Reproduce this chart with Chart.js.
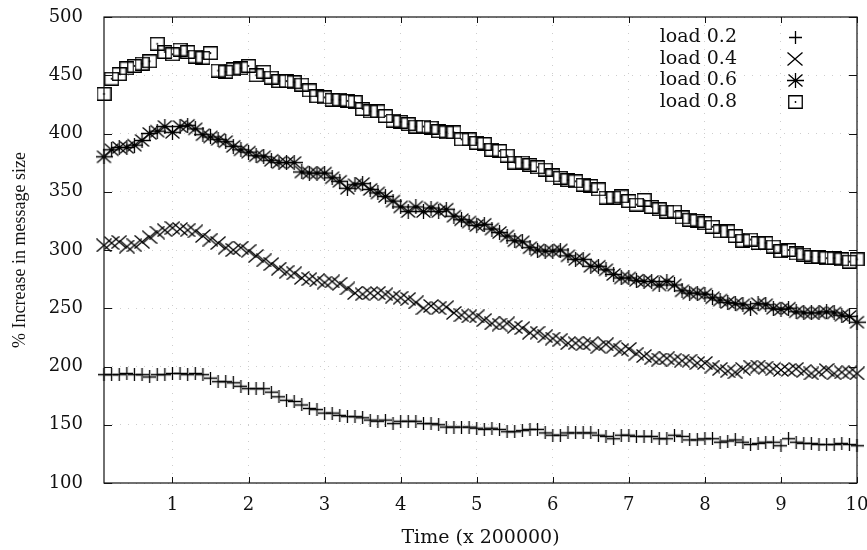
<!DOCTYPE html>
<html><head><meta charset="utf-8">
<script src="https://cdn.jsdelivr.net/npm/chart.js@4.4.1/dist/chart.umd.min.js"></script>
<style>html,body{margin:0;padding:0;background:#fff;}canvas{display:block;}</style>
</head><body>
<canvas id="c" width="867" height="550"></canvas>
<script>
// ---- data ----
const times = [0.1,0.2,0.3,0.4,0.5,0.6,0.7,0.8,0.9,1.0,
  1.1,1.2,1.3,1.4,1.5,1.6,1.7,1.8,1.9,2.0,
  2.1,2.2,2.3,2.4,2.5,2.6,2.7,2.8,2.9,3.0,
  3.1,3.2,3.3,3.4,3.5,3.6,3.7,3.8,3.9,4.0,
  4.1,4.2,4.3,4.4,4.5,4.6,4.7,4.8,4.9,5.0,
  5.1,5.2,5.3,5.4,5.5,5.6,5.7,5.8,5.9,6.0,
  6.1,6.2,6.3,6.4,6.5,6.6,6.7,6.8,6.9,7.0,
  7.1,7.2,7.3,7.4,7.5,7.6,7.7,7.8,7.9,8.0,
  8.1,8.2,8.3,8.4,8.5,8.6,8.7,8.8,8.9,9.0,
  9.1,9.2,9.3,9.4,9.5,9.6,9.7,9.8,9.9,10.0];

const load02 = [193,193,193,194,193,193,191,193,193,194,
  194,193,194,193,190,187,187,186,183,181,
  181,181,178,174,171,170,167,164,163,160,
  160,158,157,157,156,154,153,154,151,153,
  153,153,151,151,150,148,148,148,148,147,
  146,147,146,144,144,145,146,146,143,141,
  141,143,143,143,143,141,140,138,141,141,
  140,140,140,138,138,141,140,137,137,138,
  138,135,136,137,135,133,134,135,135,132,
  138,135,134,134,133,133,133,134,133,132];

const load04 = [304,306,307,303,304,307,311,315,317,319,
  318,317,316,312,309,306,302,300,302,299,
  295,291,288,284,281,280,276,275,274,272,
  273,271,267,263,262,263,263,262,260,259,
  258,255,250,252,250,251,246,244,243,243,
  240,237,236,237,234,233,229,229,226,224,
  223,220,220,219,220,217,219,217,214,215,
  211,209,207,206,207,206,205,205,203,203,
  200,198,196,195,198,200,200,199,198,197,
  197,198,196,194,195,197,194,195,195,194];

const load06 = [380,386,388,388,390,394,400,402,406,401,
  406,407,404,399,397,395,393,389,386,384,
  381,380,377,375,375,375,367,366,366,366,
  362,359,353,356,357,352,349,346,342,337,
  333,337,333,336,333,335,329,326,324,321,
  322,318,315,312,308,307,302,300,299,299,
  300,295,292,292,286,286,283,279,276,276,
  274,273,273,270,273,270,265,263,263,262,
  259,257,255,254,253,250,254,253,250,249,
  250,247,246,246,246,247,246,244,243,238];

const load08 = [434,447,451,456,458,460,462,477,470,468,
  472,470,466,465,469,454,453,455,456,458,
  450,453,448,445,445,444,442,437,432,431,
  429,429,428,427,421,419,419,415,411,410,
  408,406,406,405,402,401,401,395,395,392,
  391,386,385,381,375,375,373,371,369,364,
  362,360,359,356,355,352,345,345,346,342,
  339,343,337,335,333,333,328,326,325,323,
  320,316,316,312,308,309,306,306,303,299,
  300,297,296,294,294,293,293,292,290,292];

const seriesLabels = ['load 0.2','load 0.4','load 0.6','load 0.8'];
const xTickValues = [1,2,3,4,5,6,7,8,9,10];
const yMin = 100, yMax = 500, yStep = 50;

// ---- marker glyphs (gnuplot-like) ----
function marker(kind){
  const c = document.createElement('canvas');
  const dims = {plus:[13,13], x:[16,14], star:[17,15], square:[15,14]}[kind];
  c.width = dims[0]; c.height = dims[1];
  const g = c.getContext('2d');
  g.strokeStyle = '#000'; g.fillStyle = '#000'; g.lineWidth = 1.3;
  const w = c.width, h = c.height, cx = w/2, cy = h/2;
  g.beginPath();
  if (kind === 'plus') {
    g.moveTo(cx, 0); g.lineTo(cx, h); g.moveTo(0, cy); g.lineTo(w, cy);
  } else if (kind === 'x') {
    g.moveTo(0.5, 0.5); g.lineTo(w-0.5, h-0.5); g.moveTo(w-0.5, 0.5); g.lineTo(0.5, h-0.5);
  } else if (kind === 'star') {
    g.moveTo(cx, 0); g.lineTo(cx, h); g.moveTo(0, cy); g.lineTo(w, cy);
    g.moveTo(1.5, 1.5); g.lineTo(w-1.5, h-1.5); g.moveTo(w-1.5, 1.5); g.lineTo(1.5, h-1.5);
  } else {
    g.rect(0.75, 0.75, w-1.5, h-1.5);
  }
  g.stroke();
  if (kind === 'star' || kind === 'square') {
    g.beginPath(); g.arc(cx, cy, kind === 'star' ? 1.5 : 0.9, 0, Math.PI*2); g.fill();
  }
  return c;
}
const markers = [marker('plus'), marker('x'), marker('star'), marker('square')];
const seriesValues = [load02, load04, load06, load08];

const datasets = seriesValues.map((vals, i) => ({
  label: seriesLabels[i],
  data: times.map((t, k) => ({x: t, y: vals[k]})),
  pointStyle: markers[i],
  pointRadius: 7,
  showLine: false,
  clip: false
}));

// ---- frame, mirrored inward ticks, legend ----
const framePlugin = {
  id: 'frame',
  afterDatasetsDraw(chart) {
    const {ctx, chartArea: a, scales} = chart;
    ctx.save();
    ctx.strokeStyle = '#111'; ctx.lineWidth = 1.2;
    ctx.strokeRect(a.left, a.top, a.right - a.left, a.bottom - a.top);
    ctx.lineWidth = 1;
    ctx.beginPath();
    xTickValues.forEach(v => {
      const px = Math.round(scales.x.getPixelForValue(v)) + 0.5;
      ctx.moveTo(px, a.bottom); ctx.lineTo(px, a.bottom - 6);
      ctx.moveTo(px, a.top); ctx.lineTo(px, a.top + 6);
    });
    for (let v = yMin; v <= yMax; v += yStep) {
      const py = Math.round(scales.y.getPixelForValue(v)) + 0.5;
      ctx.moveTo(a.left, py); ctx.lineTo(a.left + 8, py);
      ctx.moveTo(a.right, py); ctx.lineTo(a.right - 8, py);
    }
    ctx.stroke();
    // legend
    ctx.font = '19px "DejaVu Serif"';
    ctx.fillStyle = '#111';
    ctx.textAlign = 'right';
    ctx.textBaseline = 'middle';
    chart.data.datasets.forEach((ds, i) => {
      const y = 37 + i * 21.6;
      ctx.fillText(ds.label, 737, y);
      const m = markers[i];
      ctx.drawImage(m, Math.round(795 - m.width/2), Math.round(y - m.height/2));
    });
    ctx.restore();
  }
};

const gridStyle = {color: '#cdcdcd', lineWidth: 1, drawTicks: false};
function noPad(s) { s.paddingTop = 0; s.paddingBottom = 0; s.paddingLeft = 0; s.paddingRight = 0; }

new Chart(document.getElementById('c'), {
  type: 'scatter',
  data: {datasets},
  plugins: [framePlugin],
  options: {
    responsive: false,
    animation: false,
    events: [],
    layout: {padding: {left: 0, right: 10, top: 17, bottom: 0}},
    plugins: {legend: {display: false}, tooltip: {enabled: false}},
    scales: {
      x: {
        type: 'linear', min: 0.1, max: 10,
        afterBuildTicks: s => { s.ticks = xTickValues.map(v => ({value: v})); },
        afterFit: s => { s.height = 67; noPad(s); },
        grid: gridStyle,
        border: {display: false, dash: [1, 7]},
        ticks: {color: '#111', padding: 12, font: {family: 'DejaVu Serif', size: 18}, maxRotation: 0, autoSkip: false},
        title: {display: true, text: 'Time (x 200000)', color: '#111',
          font: {family: 'DejaVu Serif', size: 19}, padding: {top: 0, bottom: 1}}
      },
      y: {
        type: 'linear', min: yMin, max: yMax,
        afterFit: s => { s.width = 104; noPad(s); },
        grid: gridStyle,
        border: {display: false, dash: [1, 7]},
        ticks: {stepSize: yStep, color: '#111', padding: 21, font: {family: 'DejaVu Serif', size: 18}},
        title: {display: true, text: '% Increase in message size', color: '#111',
          font: {family: 'Liberation Serif', size: 18}, padding: {top: 9, bottom: 0}}
      }
    }
  }
});
</script>
</body></html>
